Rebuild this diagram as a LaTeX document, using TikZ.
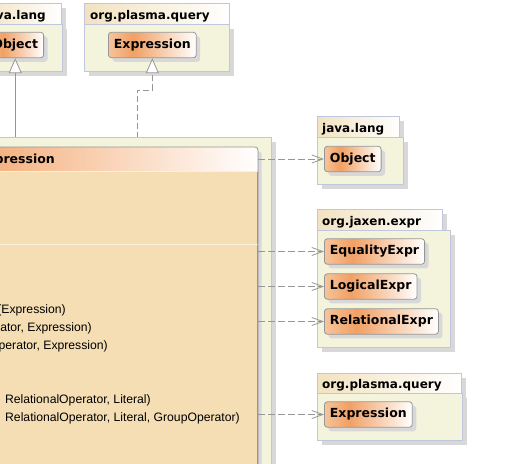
\documentclass[tikz,border=0pt]{standalone}
\usepackage{fontspec}
\setmainfont{Liberation Sans}
\newfontfamily\pkgfont{DejaVu Sans}
\usetikzlibrary{arrows.meta, shadows}

\pgfdeclarelayer{back}
\pgfdeclarelayer{edges}
\pgfsetlayers{back,edges,main}

\definecolor{pkgfill}{RGB}{244,244,220}
\definecolor{pkgline}{RGB}{192,198,220}
\definecolor{tabfill}{RGB}{242,226,192}
\definecolor{shadowgray}{RGB}{216,216,216}
\definecolor{clsline}{RGB}{150,150,150}
\definecolor{clslight}{RGB}{246,196,156}
\definecolor{clsdeep}{RGB}{241,160,100}
\definecolor{clsbody}{RGB}{245,222,180}
\definecolor{hdrleft}{RGB}{244,170,115}
\definecolor{edgegray}{RGB}{150,150,150}
\pgfdeclarehorizontalshading{clsshade}{100bp}{color(0bp)=(clslight); color(25bp)=(clslight); color(39bp)=(clsdeep); color(75bp)=(white); color(100bp)=(white)}

\tikzset{
  pkg/.style={fill=pkgfill, draw=pkgline, line width=0.8pt},
  pkgtab/.style={left color=tabfill, right color=white, draw=pkgline, line width=0.8pt},
  pkgname/.style={anchor=base west, inner sep=0pt, font=\pkgfont\bfseries\fontsize{12}{14}\selectfont},
  cls/.style={draw=clsline, line width=0.8pt, rounded corners=3pt, shading=clsshade,
    inner xsep=5.5pt, inner ysep=0pt, minimum height=25.5pt,
    font=\pkgfont\bfseries\fontsize{12.5}{14}\selectfont,
    drop shadow={shadow xshift=4pt, shadow yshift=-4pt, fill=shadowgray, opacity=1}},
  member/.style={anchor=base east, inner sep=0pt, font=\fontsize{12.2}{14}\selectfont},
  dep/.style={draw=edgegray, line width=0.8pt, dash pattern=on 7pt off 3pt,
    -{Straight Barb[length=11pt,width=8pt]}},
  gen/.style={draw=edgegray, line width=0.8pt,
    -{Triangle[open, length=15pt, width=13pt, fill=white]}}
}

\begin{document}
\begin{tikzpicture}[x=1pt,y=-1pt]
\useasboundingbox (0,0) rectangle (521,463);

\begin{pgfonlayer}{back}
% java.lang (top left)
\fill[shadowgray] (-20,8) rectangle (66,29);
\fill[shadowgray] (-20,29) rectangle (67,76);
\draw[pkgtab] (-20,3) rectangle (61,24);
\draw[pkg] (-20,24) rectangle (62,71);
\node[pkgname, anchor=base east] (toplangname) at (46,19.5) {va.lang};
\node[cls, anchor=east] (objtop) at (44,45) {Object};
% org.plasma.query (top)
\fill[shadowgray] (89,29) rectangle (234,76);
\draw[pkgtab] (84,3) rectangle (229,24);
\draw[pkg] (84,24) rectangle (229,71);
\node[pkgname] (topqueryname) at (90,19.5) {org.plasma.query};
\node[cls, anchor=west] (exprtop) at (108,45) {Expression};
\end{pgfonlayer}

\begin{pgfonlayer}{edges}
\coordinate (bend) at (137,90);
\draw[gen] (objtop |- 0,147) -- (objtop);
\draw[gen, dash pattern=on 6pt off 3pt] (bend |- 0,147) -- (bend) -| (exprtop);
\end{pgfonlayer}

% package of the main class
\fill[shadowgray] (-20,142) rectangle (276,480);
\draw[pkg] (-20,137) rectangle (271,480);

% main class
\node[draw=clsline, line width=0.8pt, rounded corners=3pt, fill=clsbody, inner sep=0pt,
  minimum width=290pt, minimum height=340pt, anchor=north east,
  drop shadow={shadow xshift=4pt, shadow yshift=-4pt, fill=shadowgray, opacity=1}] (main) at (258,147) {};
\shade[left color=hdrleft, right color=white] ([yshift=-24pt]main.north east) [rounded corners=3pt]
  -- (main.north east) -- (main.north west) [sharp corners] -- ([yshift=-24pt]main.north west) -- cycle;
\draw[white!55!clsbody, line width=1pt] ([yshift=-24pt]main.north west) -- ([yshift=-24pt]main.north east);
\draw[white!55!clsbody, line width=1pt] ([yshift=-97pt]main.north west) -- ([yshift=-97pt]main.north east);
\draw[clsline, line width=0.8pt, rounded corners=3pt] (main.south west) rectangle (main.north east);
\node[anchor=base east, inner sep=0pt, font=\pkgfont\bfseries\fontsize{12.5}{14}\selectfont] (mainname) at (55,163.5) {pression};
\node[member] (m1) at (66,313) {(Expression)};
\node[member] (m2) at (92,331) {ator, Expression)};
\node[member] (m3) at (108,349) {perator, Expression)};
\node[member] (m4) at (151,403) {RelationalOperator, Literal)};
\node[member] (m5) at (240,421) {RelationalOperator, Literal, GroupOperator)};

% java.lang (right)
\fill[shadowgray] (322,121) rectangle (404,142);
\fill[shadowgray] (322,142) rectangle (408,189);
\draw[pkgtab] (317,116) rectangle (399,137);
\draw[pkg] (317,137) rectangle (403,184);
\node[pkgname] (langname) at (322,132.5) {java.lang};
\node[cls, anchor=west] (objlang) at (324,159) {Object};

% org.jaxen.expr
\fill[shadowgray] (322,214) rectangle (447,235);
\fill[shadowgray] (322,235) rectangle (455,352);
\draw[pkgtab] (317,209) rectangle (442,230);
\draw[pkg] (317,230) rectangle (450,347);
\node[pkgname] (jaxenname) at (322,225.5) {org.jaxen.expr};
\node[cls, anchor=west] (eqexpr) at (324,251.5) {EqualityExpr};
\node[cls, anchor=west] (logexpr) at (324,286.5) {LogicalExpr};
\node[cls, anchor=west] (relexpr) at (324,321.5) {RelationalExpr};

% org.plasma.query (right)
\fill[shadowgray] (322,378) rectangle (466,398);
\fill[shadowgray] (322,398) rectangle (467,445);
\draw[pkgtab] (317,373) rectangle (461,393);
\draw[pkg] (317,393) rectangle (462,440);
\node[pkgname] (queryname) at (322,388.5) {org.plasma.query};
\node[cls, anchor=west] (plexpr) at (324,414.5) {Expression};

% dependencies
\draw[dep] (main.east |- objlang) -- (objlang);
\draw[dep] (main.east |- eqexpr) -- (eqexpr);
\draw[dep] (main.east |- logexpr) -- (logexpr);
\draw[dep] (main.east |- relexpr) -- (relexpr);
\draw[dep] (main.east |- plexpr) -- (plexpr);
\end{tikzpicture}
\end{document}
